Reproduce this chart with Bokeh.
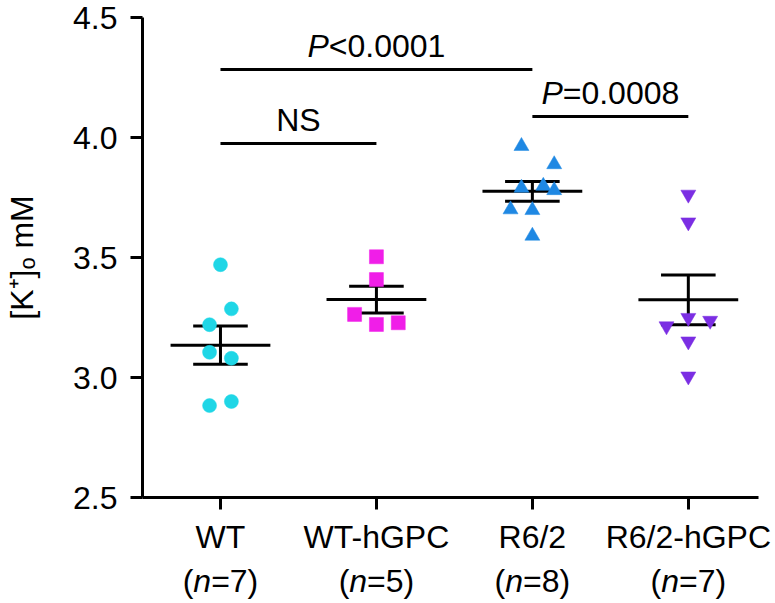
import numpy as np
from bokeh.plotting import figure
from bokeh.layouts import column
from bokeh.models import Range1d, FixedTicker
from bokeh.embed import file_html
from bokeh.resources import INLINE
from bokeh.core.properties import value

# ---------------- data ----------------
groups = ["WT", "WT-hGPC", "R6/2", "R6/2-hGPC"]
n_counts = ["7", "5", "8", "7"]

wt = [3.47, 3.286, 3.22, 3.105, 3.08, 2.883, 2.90]
wt_jitter = [0.0, 0.07, -0.07, -0.07, 0.07, -0.07, 0.07]
wt_hgpc = [3.503, 3.408, 3.263, 3.221, 3.228]
wt_hgpc_jitter = [0.0, 0.0, -0.14, 0.0, 0.14]
r62 = [3.964, 3.888, 3.79, 3.798, 3.78, 3.70, 3.697, 3.59]
r62_jitter = [-0.07, 0.14, -0.07, 0.07, 0.14, -0.14, 0.0, 0.0]
r62_hgpc = [3.7625, 3.647, 3.214, 3.249, 3.237, 3.151, 3.005]
r62_hgpc_jitter = [0.0, 0.0, -0.14, 0.0, 0.14, 0.0, 0.0]

series = [wt, wt_hgpc, r62, r62_hgpc]
jitters = [wt_jitter, wt_hgpc_jitter, r62_jitter, r62_hgpc_jitter]
colors = ["#1fd6e6", "#f01ee8", "#1f88e3", "#7b2ee3"]
markers = ["circle", "square", "triangle", "inverted_triangle"]
marker_sizes = [14, 14, 15, 15]

y_ticks = [2.5, 3.0, 3.5, 4.0, 4.5]

# significance comparisons: (group a, group b, bar level, italic prefix, rest)
comparisons = [
    (0, 2, 4.283, "P", "<0.0001"),
    (0, 1, 3.975, "", "NS"),
    (2, 3, 4.0875, "P", "=0.0008"),
]

FONT = "Liberation Sans"
FS = 32
CHAR_W = {'P': .667, '<': .584, '=': .584, '0': .556, '.': .278, '1': .556,
          '8': .556, '(': .333, ')': .333, 'n': .556, '5': .556, '7': .556,
          'N': .722, 'S': .667}


def tw(s):
    return sum(CHAR_W.get(c, .556) for c in s) * FS


W = 775
H_MAIN = 557
H_SUB = 43
BL, BR, BT = 142, 17, 17

x_range = Range1d(0.5, 4.45)

# ---------------- main figure ----------------
p = figure(width=W, height=H_MAIN, x_range=x_range, y_range=Range1d(2.5, 4.5),
           output_backend="svg", toolbar_location=None,
           min_border_left=BL, min_border_right=BR, min_border_top=BT, min_border_bottom=H_MAIN - 497)
p.outline_line_color = None
p.grid.visible = False

positions = list(range(1, len(groups) + 1))

# mean +/- SEM lines
for pos, vals in zip(positions, series):
    v = np.array(vals)
    m = v.mean()
    sem = v.std(ddof=1) / np.sqrt(len(v))
    p.segment(x0=[pos - 0.32], x1=[pos + 0.32], y0=[m], y1=[m], line_color="black", line_width=3)
    p.segment(x0=[pos - 0.175, pos - 0.175], x1=[pos + 0.175, pos + 0.175],
              y0=[m + sem, m - sem], y1=[m + sem, m - sem], line_color="black", line_width=3)
    p.segment(x0=[pos], x1=[pos], y0=[m - sem], y1=[m + sem], line_color="black", line_width=3)

# points
for pos, vals, jit, c, mk, sz in zip(positions, series, jitters, colors, markers, marker_sizes):
    xs = [pos + j for j in jit]
    p.scatter(x=xs, y=vals, marker=mk, size=sz, fill_color=c, line_color=c, line_width=0.5)

# significance bars
for a, b, lvl, pre, rest in comparisons:
    xa, xb = positions[a], positions[b]
    p.segment(x0=[xa], x1=[xb], y0=[lvl], y1=[lvl], line_color="black", line_width=3)
    total = tw(pre) + tw(rest)
    start = -total / 2
    xm = (xa + xb) / 2
    ty = lvl + 0.10
    if pre:
        p.text(x=[xm], y=[ty], text=[pre], x_offset=start, text_align="left",
               text_baseline="alphabetic", text_font=value(FONT), text_font_size=f"{FS}px",
               text_font_style="italic", text_color="black")
    p.text(x=[xm], y=[ty], text=[rest], x_offset=start + tw(pre), text_align="left",
           text_baseline="alphabetic", text_font=value(FONT), text_font_size=f"{FS}px",
           text_color="black")

# axes
yax = p.yaxis[0]
yax.ticker = FixedTicker(ticks=y_ticks)
yax.major_label_overrides = {t: f"{t:.1f}" for t in y_ticks}
yax.axis_label = "[K\u207a]\u2092 mM"
yax.axis_label_text_font_style = "normal"
yax.axis_label_text_font = FONT
yax.axis_label_text_font_size = f"{FS}px"
yax.axis_label_text_color = "black"
yax.axis_label_standoff = 30

xax = p.xaxis[0]
xax.ticker = FixedTicker(ticks=positions)
xax.major_label_overrides = {pos: g for pos, g in zip(positions, groups)}

for ax in (xax, yax):
    ax.axis_line_width = 3
    ax.axis_line_color = "black"
    ax.major_tick_line_width = 3
    ax.major_tick_line_color = "black"
    ax.major_tick_out = 12
    ax.major_tick_in = 0
    ax.minor_tick_out = 0
    ax.minor_tick_in = 0
    ax.major_label_text_font = FONT
    ax.major_label_text_font_size = f"{FS}px"
    ax.major_label_text_color = "black"
xax.major_label_standoff = 9
yax.major_label_standoff = 13

# ---------------- second line of category labels: "(n=..)" ----------------
q = figure(width=W, height=H_SUB, x_range=x_range, y_range=Range1d(0, H_SUB),
           output_backend="svg", toolbar_location=None,
           min_border_left=BL, min_border_right=BR, min_border_top=0, min_border_bottom=0)
q.outline_line_color = None
q.grid.visible = False
q.axis.visible = False

for pos, n in zip(positions, n_counts):
    pieces = [("(", "normal"), ("n", "italic"), ("=" + n + ")", "normal")]
    total = sum(tw(s) for s, _ in pieces)
    off = -total / 2
    for s, st in pieces:
        q.text(x=[pos], y=[20], text=[s], x_offset=off, text_align="left",
               text_baseline="middle", text_font=value(FONT), text_font_size=f"{FS}px",
               text_font_style=st, text_color="black")
        off += tw(s)

layout = column(p, q, spacing=0)
open("out.html", "w").write(file_html(layout, INLINE))
